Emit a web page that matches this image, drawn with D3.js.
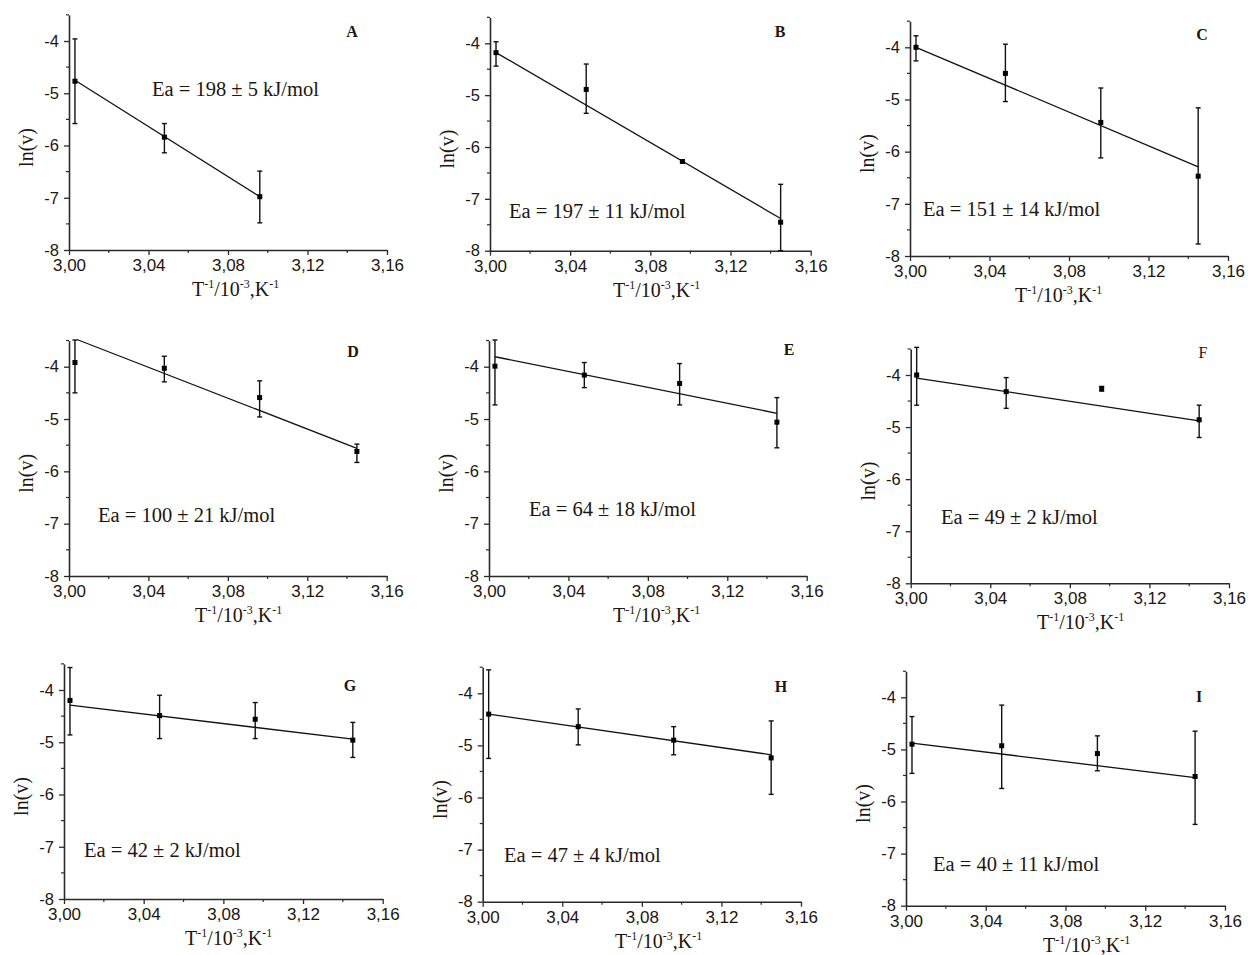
<!DOCTYPE html>
<html><head><meta charset="utf-8">
<script src="https://cdn.jsdelivr.net/npm/d3@7"></script>
<style>
html,body{margin:0;padding:0;background:#fff;}
svg{display:block;}
</style></head>
<body>
<svg id="chart" width="1248" height="955"></svg>
<script>
// ---------------- data ----------------
const panelIds = ["A","B","C","D","E","F","G","H","I"];
const eaLabels = [
  "Ea = 198 \u00B1 5 kJ/mol",
  "Ea = 197 \u00B1 11 kJ/mol",
  "Ea = 151 \u00B1 14 kJ/mol",
  "Ea = 100 \u00B1 21 kJ/mol",
  "Ea = 64 \u00B1 18 kJ/mol",
  "Ea = 49 \u00B1 2 kJ/mol",
  "Ea = 42 \u00B1 2 kJ/mol",
  "Ea = 47 \u00B1 4 kJ/mol",
  "Ea = 40 \u00B1 11 kJ/mol"
];
const xValues = [3.003, 3.048, 3.096, 3.145];
const lnV = [
  [-4.77, -5.84, -6.98],
  [-4.18, -4.89, -6.28, -7.45],
  [-4.00, -4.50, -5.44, -6.47],
  [-3.92, -4.03, -4.59, -5.62],
  [-3.99, -4.16, -4.32, -5.06],
  [-4.00, -4.32, -4.26, -4.86],
  [-4.20, -4.49, -4.56, -4.96],
  [-4.40, -4.64, -4.90, -5.24],
  [-4.90, -4.93, -5.08, -5.52]
];
const errHigh = [
  [-3.96, -5.58, -6.49],
  [-3.97, -4.40, -6.25, -6.72],
  [-3.78, -3.94, -4.78, -5.16],
  [-3.49, -3.80, -4.27, -5.48],
  [-3.49, -3.92, -3.94, -4.59],
  [-3.47, -4.05, -4.22, -4.58],
  [-3.57, -4.10, -4.24, -4.62],
  [-3.55, -4.30, -4.64, -4.53],
  [-4.37, -4.15, -4.74, -4.65]
];
const errLow = [
  [-5.58, -6.14, -7.48],
  [-4.44, -5.35, -6.31, -8.00],
  [-4.26, -5.04, -6.12, -7.77],
  [-4.50, -4.29, -4.96, -5.83],
  [-4.73, -4.40, -4.73, -5.55],
  [-4.58, -4.64, -4.31, -5.20],
  [-4.86, -4.93, -4.93, -5.29],
  [-5.25, -4.99, -5.18, -5.94],
  [-5.46, -5.75, -5.41, -6.44]
];
const fitStartX = [3.003, 3.003, 3.003, 3.004, 3.003, 3.003, 3.003, 3.003, 3.003];
const fitEndX   = [3.096, 3.145, 3.145, 3.145, 3.145, 3.145, 3.145, 3.145, 3.145];
const fitStartY = [-4.75, -4.18, -4.00, -3.48, -3.81, -4.06, -4.29, -4.40, -4.88];
const fitEndY   = [-6.98, -7.38, -6.29, -5.56, -4.89, -4.88, -4.94, -5.18, -5.54];
const xTicks = [3.00, 3.04, 3.08, 3.12, 3.16];
const xMinorTicks = [3.02, 3.06, 3.10, 3.14];
const yTicks = [-8, -7, -6, -5, -4];
const yMinorTicks = [-7.5, -6.5, -5.5, -4.5, -3.5];
const xDomain = [3.00, 3.16];
const yDomain = [-8, -3.5];

// ---------------- layout (pixels) ----------------
const layout = [
  {x0: 69,    x1: 387,    yb: 250,   y4: 41,    letter:[352, 37],   ea:[152, 96],   tx:192},
  {x0: 490,   x1: 810.7,  yb: 250.7, y4: 43.3,  letter:[780, 37],   ea:[509, 218],  tx:613},
  {x0: 910,   x1: 1228,   yb: 256,   y4: 47.3,  letter:[1202, 40],  ea:[923, 216],  tx:1015},
  {x0: 69,    x1: 386.7,  yb: 576,   y4: 366.7, letter:[353, 357],  ea:[98, 522],   tx:195},
  {x0: 489,   x1: 806.7,  yb: 576,   y4: 366.7, letter:[789, 355],  ea:[529, 516],  tx:613},
  {x0: 910.7, x1: 1229,   yb: 583.3, y4: 375,   letter:[1203, 358], ea:[941, 524],  tx:1037},
  {x0: 64,    x1: 382.7,  yb: 899,   y4: 690,   letter:[350, 691],  ea:[84, 857],   tx:185},
  {x0: 482.7, x1: 801,    yb: 901.7, y4: 693.3, letter:[781, 692],  ea:[504, 862],  tx:615},
  {x0: 906,   x1: 1225,   yb: 905.7, y4: 697.3, letter:[1199, 702], ea:[933, 871],  tx:1043}
];
const letterWeight = ["bold","bold","bold","bold","bold","normal","bold","bold","bold"];

const textColor = "#221510";
const axisColor = "#2a2a2a";

const svg = d3.select("#chart");

panelIds.forEach((id, i) => {
  const L = layout[i];
  const unit = (L.yb - L.y4) / 4;
  const yTop = L.y4 - 0.5 * unit;
  const x = d3.scaleLinear().domain(xDomain).range([L.x0, L.x1]);
  const y = d3.scaleLinear().domain(yDomain).range([L.yb, yTop]);
  const g = svg.append("g");

  // axes
  const xAxis = d3.axisBottom(x).tickValues(xTicks).tickSize(5).tickSizeOuter(0).tickPadding(4)
    .tickFormat(d => d.toFixed(2).replace(".", ","));
  const yAxis = d3.axisLeft(y).tickValues(yTicks).tickSize(5).tickSizeOuter(0).tickPadding(5)
    .tickFormat(d => String(d));

  const gx = g.append("g").attr("transform", `translate(0,${L.yb})`).call(xAxis);
  const gy = g.append("g").attr("transform", `translate(${L.x0},0)`).call(yAxis);
  [gx, gy].forEach(a => {
    a.select(".domain").attr("stroke", axisColor).attr("stroke-width", 1.6);
    a.selectAll(".tick line").attr("stroke", axisColor).attr("stroke-width", 1.3);
    a.selectAll("text").attr("fill", textColor).attr("font-family", "'Liberation Sans', Arial, sans-serif");
  });
  gx.selectAll("text").attr("font-size", 17);
  gy.selectAll("text").attr("font-size", 16.5);

  // minor ticks
  g.append("g").selectAll("line").data(xMinorTicks).join("line")
    .attr("x1", d => x(d)).attr("x2", d => x(d))
    .attr("y1", L.yb).attr("y2", L.yb + 3)
    .attr("stroke", axisColor).attr("stroke-width", 1.2);
  g.append("g").selectAll("line").data(yMinorTicks).join("line")
    .attr("x1", L.x0 - 3).attr("x2", L.x0)
    .attr("y1", d => y(d)).attr("y2", d => y(d))
    .attr("stroke", axisColor).attr("stroke-width", 1.2);

  // fit line
  g.append("line")
    .attr("x1", x(fitStartX[i])).attr("y1", y(fitStartY[i]))
    .attr("x2", x(fitEndX[i])).attr("y2", y(fitEndY[i]))
    .attr("stroke", "#111").attr("stroke-width", 1.3);

  const pts = lnV[i].map((v, k) => ({x: xValues[k], v, hi: errHigh[i][k], lo: errLow[i][k]}));

  // error bars
  const eb = g.append("g").attr("stroke", "#111").attr("stroke-width", 1.4);
  eb.selectAll("line.v").data(pts).join("line").attr("class", "v")
    .attr("x1", d => x(d.x)).attr("x2", d => x(d.x))
    .attr("y1", d => y(d.hi)).attr("y2", d => y(d.lo));
  eb.selectAll("line.ch").data(pts).join("line").attr("class", "ch")
    .attr("x1", d => x(d.x) - 2.5).attr("x2", d => x(d.x) + 2.5)
    .attr("y1", d => y(d.hi)).attr("y2", d => y(d.hi));
  eb.selectAll("line.cl").data(pts).join("line").attr("class", "cl")
    .attr("x1", d => x(d.x) - 2.5).attr("x2", d => x(d.x) + 2.5)
    .attr("y1", d => y(d.lo)).attr("y2", d => y(d.lo));

  // markers
  g.selectAll("rect.pt").data(pts).join("rect").attr("class", "pt")
    .attr("x", d => x(d.x) - 2.5).attr("y", d => y(d.v) - 2.5)
    .attr("width", 5).attr("height", 5).attr("fill", "#000");

  // panel letter
  g.append("text").attr("x", L.letter[0]).attr("y", L.letter[1])
    .attr("text-anchor", "middle")
    .attr("font-family", "'Liberation Serif', 'Times New Roman', serif")
    .attr("font-weight", letterWeight[i]).attr("font-size", 16)
    .attr("fill", textColor).text(id);

  // Ea annotation
  g.append("text").attr("x", L.ea[0]).attr("y", L.ea[1])
    .attr("font-family", "'Liberation Serif', 'Times New Roman', serif")
    .attr("font-size", 20.5).attr("fill", textColor).text(eaLabels[i]);

  // x axis title
  const t = g.append("text").attr("x", L.tx).attr("y", L.yb + 46)
    .attr("font-family", "'Liberation Serif', 'Times New Roman', serif")
    .attr("font-size", 20).attr("fill", textColor);
  t.append("tspan").text("T");
  t.append("tspan").attr("font-size", 12).attr("dy", -8).text("-1");
  t.append("tspan").attr("dy", 8).text("/10");
  t.append("tspan").attr("font-size", 12).attr("dy", -8).text("-3");
  t.append("tspan").attr("dy", 8).text(",K");
  t.append("tspan").attr("font-size", 12).attr("dy", -8).text("-1");

  // y axis title
  const cy = (L.yb + yTop) / 2 + 15;
  g.append("text")
    .attr("transform", `translate(${L.x0 - 36},${cy}) rotate(-90)`)
    .attr("text-anchor", "middle")
    .attr("font-family", "'Liberation Serif', 'Times New Roman', serif")
    .attr("font-size", 20).attr("fill", textColor).text("ln(v)");
});
</script>
</body></html>
